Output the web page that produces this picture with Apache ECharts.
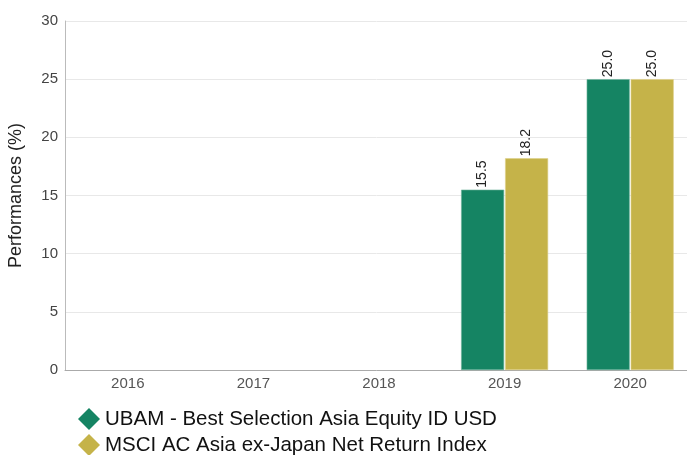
<!DOCTYPE html>
<html><head><meta charset="utf-8">
<script src="https://cdn.jsdelivr.net/npm/echarts@6/dist/echarts.min.js"></script>
<style>html,body{margin:0;padding:0;background:#fff}#c{width:687px;height:455px}</style>
</head><body><div id="c"></div>
<script>
var categories = ['2016','2017','2018','2019','2020'];
var fundName = 'UBAM - Best Selection Asia Equity ID USD';
var indexName = 'MSCI AC Asia ex-Japan Net Return Index';
var fundValues = [null, null, null, 15.5, 25.0];
var indexValues = [null, null, null, 18.2, 25.0];
var yTicks = {min: 0, max: 30, interval: 5};

var chart = echarts.init(document.getElementById('c'));
var labelOpt = {
  show: true, position: 'top', rotate: 90, align: 'left', verticalAlign: 'middle',
  distance: 2, color: '#222', fontSize: 14, fontFamily: 'Liberation Sans, Arial',
  formatter: function(p){ return p.value == null ? '' : p.value.toFixed(1); }
};
var legendText = {fontSize: 20.5, color: '#111', fontFamily: 'Liberation Sans, Arial'};
chart.setOption({
  animation: false,
  textStyle: {fontFamily: 'Liberation Sans, Arial'},
  grid: {left: 65, right: -6, top: 21, bottom: 85, containLabel: false, outerBoundsMode: 'none'},
  legend: [
    {orient: 'vertical', left: 73, top: 403, icon: 'diamond', itemWidth: 22, itemHeight: 22,
     itemStyle: {borderWidth: 0}, textStyle: legendText, data: [fundName]},
    {orient: 'vertical', left: 73, top: 429, icon: 'diamond', itemWidth: 22, itemHeight: 22,
     itemStyle: {borderWidth: 0}, textStyle: legendText, data: [indexName]}
  ],
  xAxis: {
    type: 'category', data: categories,
    axisLine: {lineStyle: {color: '#aaa'}},
    axisTick: {show: false},
    axisLabel: {color: '#555', fontSize: 15, margin: 6}
  },
  yAxis: {
    type: 'value', min: yTicks.min, max: yTicks.max, interval: yTicks.interval,
    name: 'Performances (%)', nameLocation: 'middle', nameGap: 40,
    nameTextStyle: {fontSize: 18, color: '#222'},
    axisLine: {show: true, lineStyle: {color: '#bbb'}},
    axisTick: {show: false},
    axisLabel: {color: '#444', fontSize: 15, margin: 7},
    splitLine: {lineStyle: {color: '#e8e8e8'}}
  },
  series: [
    {name: fundName, type: 'bar', data: fundValues, barCategoryGap: '30.7%', barGap: '2.3%',
     itemStyle: {color: '#158463', borderColor: '#6fb39c', borderWidth: 0.6}, label: labelOpt},
    {name: indexName, type: 'bar', data: indexValues,
     itemStyle: {color: '#c5b349', borderColor: '#ddd08a', borderWidth: 0.6}, label: labelOpt}
  ]
});
</script></body></html>
